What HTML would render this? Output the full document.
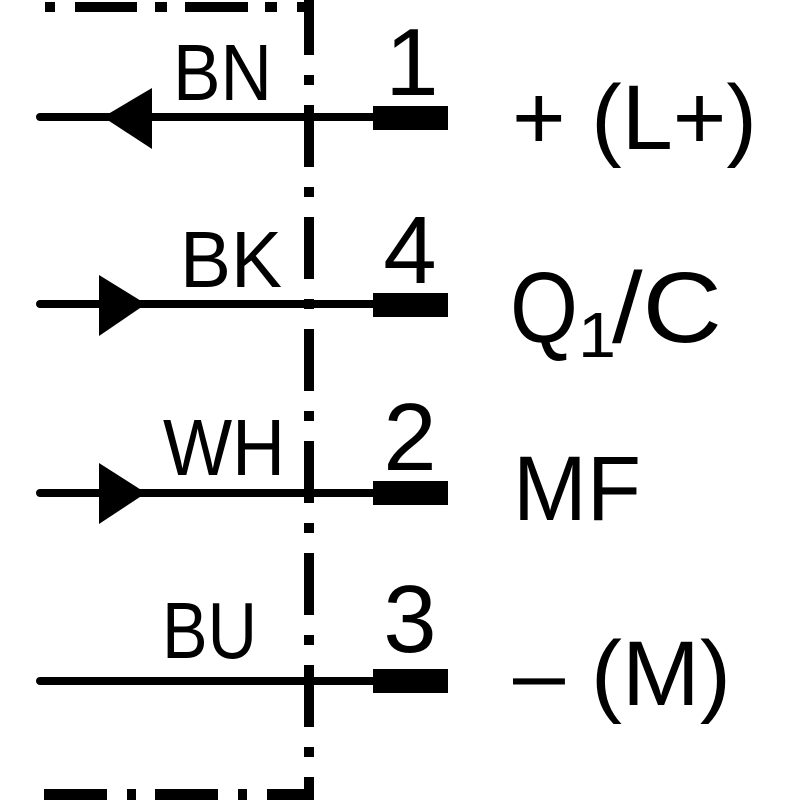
<!DOCTYPE html>
<html><head><style>html,body{margin:0;padding:0;background:#fff}svg{display:block}</style></head>
<body>
<svg width="800" height="800" viewBox="0 0 800 800" xmlns="http://www.w3.org/2000/svg" font-family="Liberation Sans, Arial, sans-serif">
<rect width="800" height="800" fill="#fff"/>
<g fill="#000">
<rect x="45" y="2" width="10" height="10"/>
<rect x="75" y="2" width="62" height="10"/>
<rect x="155" y="2" width="12" height="10"/>
<rect x="185" y="2" width="63" height="10"/>
<rect x="265" y="2" width="12" height="10"/>
<rect x="297" y="2" width="17" height="10"/>
<rect x="44" y="789" width="63" height="11"/>
<rect x="127" y="789" width="9" height="11"/>
<rect x="155" y="789" width="63" height="11"/>
<rect x="238" y="789" width="9" height="11"/>
<rect x="267" y="789" width="47" height="11"/>
</g>
<line x1="309" y1="-7" x2="309" y2="795" stroke="#000" stroke-width="10" stroke-dasharray="62 20 10 20"/>
<g stroke="#000" stroke-width="8" stroke-linecap="round">
<line x1="40" y1="117" x2="380" y2="117"/>
<line x1="40" y1="304" x2="380" y2="304"/>
<line x1="40" y1="493" x2="380" y2="493"/>
<line x1="40" y1="681" x2="380" y2="681"/>
</g>
<g fill="#000">
<rect x="373" y="106" width="75" height="24"/>
<rect x="373" y="293" width="75" height="24"/>
<rect x="373" y="481" width="75" height="24"/>
<rect x="373" y="669" width="75" height="24"/>
<polygon points="103,117 152,88 152,149"/>
<polygon points="99,275 146,304 99,336"/>
<polygon points="99,463 146,493 99,524"/>
</g>
<g fill="#000" font-size="80">
<text x="173" y="100" textLength="99" lengthAdjust="spacingAndGlyphs">BN</text>
<text x="180" y="287" textLength="102" lengthAdjust="spacingAndGlyphs">BK</text>
<text x="163" y="475" textLength="122" lengthAdjust="spacingAndGlyphs">WH</text>
<text x="162" y="658" textLength="95" lengthAdjust="spacingAndGlyphs">BU</text>
</g>
<g fill="#000" font-size="96" text-anchor="middle">
<text x="412" y="95">1</text>
<text x="410" y="283">4</text>
<text x="410" y="470">2</text>
<text x="410" y="652">3</text>
</g>
<g fill="#000" font-size="92">
<text x="512" y="149" textLength="245" lengthAdjust="spacingAndGlyphs">+ (L+)</text>
<text x="510" y="342" font-size="100" textLength="68" lengthAdjust="spacingAndGlyphs">Q</text>
<text x="578" y="357" font-size="64" textLength="38" lengthAdjust="spacingAndGlyphs">1</text>
<text x="612" y="342" font-size="100" textLength="110" lengthAdjust="spacingAndGlyphs">/C</text>
<text x="513" y="520" textLength="128" lengthAdjust="spacingAndGlyphs">MF</text>
<text x="513" y="705" textLength="218" lengthAdjust="spacingAndGlyphs">– (M)</text>
</g>
</svg>
</body></html>
